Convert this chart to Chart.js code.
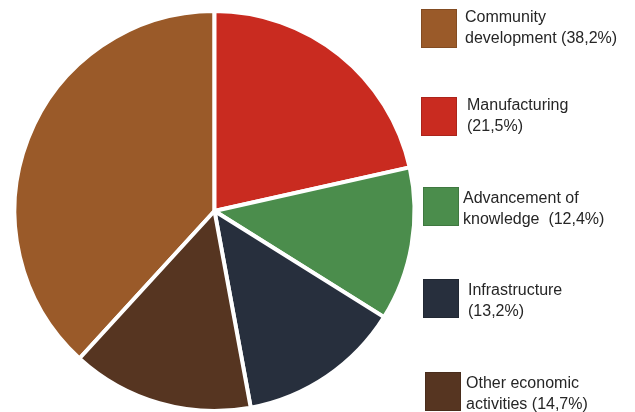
<!DOCTYPE html>
<html>
<head>
<meta charset="utf-8">
<script src="https://cdn.jsdelivr.net/npm/chart.js@4"></script>
<style>
    html, body { margin: 0; padding: 0; background: #fff; }
    #wrap { position: relative; width: 635px; height: 412px; overflow: hidden; }
    #pieChart { position: absolute; left: 0; top: 0; }
    .legend-item { position: absolute; }
    .legend-box { position: absolute; width: 36px; height: 39px; box-shadow: inset 0 0 0 1px rgba(0,0,0,0.15); }
    .legend-text {
        position: absolute;
        font-family: "Liberation Sans", Arial, sans-serif;
        font-size: 16px;
        line-height: 21px;
        color: #262626;
        white-space: pre;
    }
</style>
</head>
<body>
<div id="wrap">
    <canvas id="pieChart" width="635" height="412"></canvas>
</div>
<script>
// Shares of spending, in percent
const categories = ['Community development', 'Manufacturing', 'Advancement of knowledge', 'Infrastructure', 'Other economic activities'];
const shares = [38.2, 21.5, 12.4, 13.2, 14.7];
const legendLines = [
    ['Community', 'development (38,2%)'],
    ['Manufacturing', '(21,5%)'],
    ['Advancement of', 'knowledge  (12,4%)'],
    ['Infrastructure', '(13,2%)'],
    ['Other economic', 'activities (14,7%)']
];
const colors = ['#9a5a29', '#c92b20', '#4b8d4c', '#272f3d', '#563521'];

// legend placement: [box left, box top, text left, text top]
const legendSpots = [
    [421, 9, 465, 6],
    [421, 97, 467, 94],
    [423, 187, 463, 187],
    [423, 279, 468, 279],
    [425, 372, 466, 372]
];

// the first slice ends at twelve o'clock, so start it that far back
const startRotation = -shares[0] * 3.6;

const ctx = document.getElementById('pieChart').getContext('2d');
new Chart(ctx, {
    type: 'pie',
    data: {
        labels: categories,
        datasets: [{
            data: shares,
            backgroundColor: colors,
            borderColor: '#ffffff',
            borderWidth: 4
        }]
    },
    options: {
        responsive: false,
        animation: false,
        rotation: startRotation,
        radius: 200,
        layout: { padding: { left: 3, right: 209, top: 10, bottom: 0 } },
        plugins: {
            legend: { display: false },
            tooltip: { enabled: false }
        }
    }
});

// legend on the right
const wrap = document.getElementById('wrap');
legendLines.forEach((lines, i) => {
    const [bx, by, tx, ty] = legendSpots[i];
    const box = document.createElement('div');
    box.className = 'legend-box';
    box.style.left = bx + 'px';
    box.style.top = by + 'px';
    box.style.background = colors[i];
    wrap.appendChild(box);

    const text = document.createElement('div');
    text.className = 'legend-text';
    text.style.left = tx + 'px';
    text.style.top = ty + 'px';
    text.textContent = lines.join('\n');
    wrap.appendChild(text);
});
</script>
</body>
</html>
